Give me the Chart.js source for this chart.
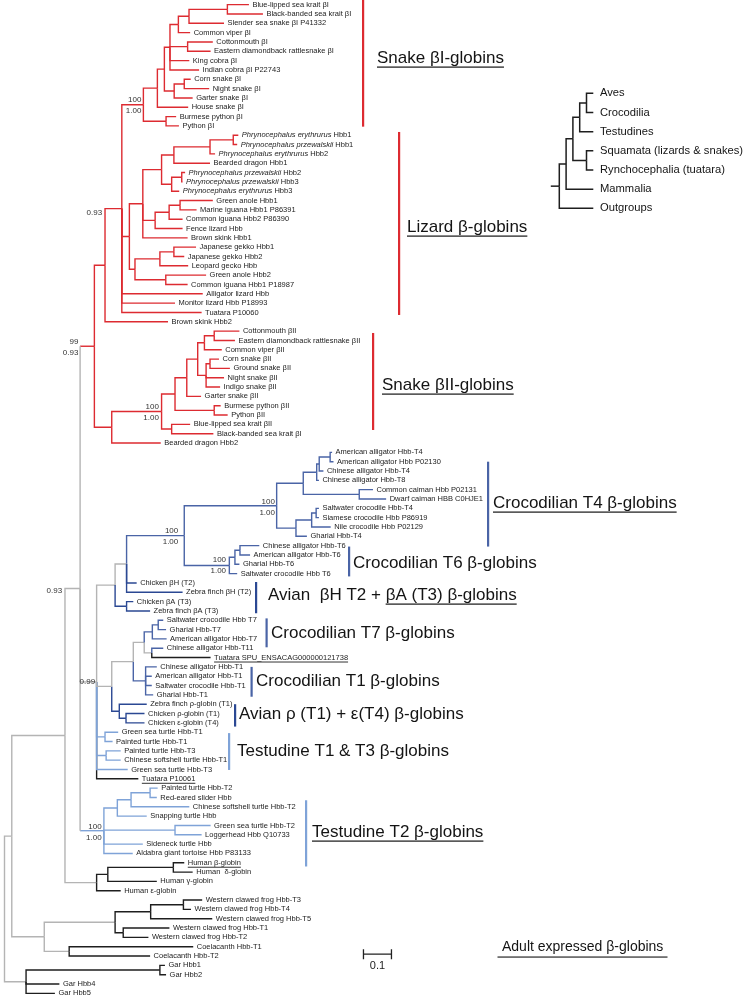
<!DOCTYPE html>
<html>
<head>
<meta charset="utf-8">
<script src="https://cdn.jsdelivr.net/npm/chart.js@4.4.1/dist/chart.umd.min.js"></script>
<style>
  html, body { margin: 0; padding: 0; background: #fff; }
  #page { position: relative; width: 745px; height: 998px; overflow: hidden; }
  #tree { position: absolute; left: 0; top: 0; }
  #inset { position: absolute; left: 540px; top: 80px; }
</style>
</head>
<body>
<div id="page">
  <canvas id="tree" width="745" height="998"></canvas>
  <canvas id="inset" width="205" height="140"></canvas>
</div>
<script>
const FONT = '"Liberation Sans", Arial, sans-serif';

// internal nodes: id, parent, distance from root (subst./site), clade
const treeNodes = [
  ['root', null, 0, 'grey'], ['Q', 'root', 0.026, 'grey'], ['N65', 'Q', 0.216, 'grey'], ['N80', 'N65', 0.270, 'grey'],
  ['S', 'N80', 0.321, 'red'], ['L105', 'S', 0.359, 'red'], ['P', 'L105', 0.419, 'red'],
  ['SB1', 'P', 0.496, 'red'], ['sb1_h', 'SB1', 0.546, 'red'], ['sb1_ac', 'sb1_h', 0.571, 'red'], ['sb1_A', 'sb1_ac', 0.591, 'red'],
  ['sb1_vip', 'sb1_A', 0.621, 'red'], ['sb1_sea', 'sb1_vip', 0.659, 'red'], ['sb1_kr', 'sb1_sea', 0.796, 'red'],
  ['sb1_cot', 'sb1_A', 0.654, 'red'], ['sb1_col', 'sb1_ac', 0.606, 'red'], ['sb1_cn', 'sb1_col', 0.642, 'red'], ['sb1_py', 'SB1', 0.577, 'red'],
  ['LC', 'P', 0.446, 'red'], ['lz_a', 'LC', 0.494, 'red'], ['agam', 'lz_a', 0.561, 'red'], ['agam1', 'agam', 0.605, 'red'],
  ['agam1p', 'agam1', 0.734, 'red'], ['agam1pp', 'agam1p', 0.817, 'red'], ['agam2', 'agam', 0.597, 'red'], ['agam2p', 'agam2', 0.633, 'red'],
  ['igu', 'lz_a', 0.538, 'red'], ['igu1', 'igu', 0.588, 'red'], ['igu2', 'igu1', 0.627, 'red'],
  ['gek', 'LC', 0.466, 'red'], ['gek1', 'gek', 0.555, 'red'], ['gek2', 'gek1', 0.605, 'red'], ['ga2', 'gek', 0.576, 'red'],
  ['SB2a', 'S', 0.383, 'red'], ['SB2', 'SB2a', 0.561, 'red'], ['sb2_b', 'SB2', 0.609, 'red'], ['sb2_c', 'sb2_b', 0.651, 'red'],
  ['sb2_d', 'sb2_c', 0.690, 'red'], ['sb2_vip', 'sb2_d', 0.714, 'red'], ['sb2_cot', 'sb2_vip', 0.749, 'red'],
  ['sb2_col', 'sb2_d', 0.720, 'red'], ['sb2_cg', 'sb2_col', 0.734, 'red'], ['sb2_py', 'sb2_b', 0.749, 'red'], ['sb2_k', 'SB2', 0.597, 'red'],
  ['N96', 'N80', 0.329, 'grey'], ['N115', 'N96', 0.395, 'grey'], ['N126', 'N115', 0.436, 'grey'],
  ['CR', 'N126', 0.642, 'croc'], ['T4', 'CR', 0.972, 'croc'], ['t4a', 'T4', 1.067, 'croc'], ['t4al', 't4a', 1.115, 'croc'],
  ['t4al2', 't4al', 1.124, 'croc'], ['t4al3', 't4al2', 1.163, 'croc'], ['t4cai', 't4a', 1.267, 'croc'],
  ['t4b', 'T4', 1.041, 'croc'], ['t4c', 't4b', 1.097, 'croc'], ['t4d', 't4c', 1.113, 'croc'],
  ['T6', 'CR', 0.803, 'croc'], ['t6a', 'T6', 0.823, 'croc'], ['t6b', 't6a', 0.841, 'croc'],
  ['bA', 'N115', 0.436, 'avian'],
  ['N111', 'N96', 0.383, 'grey'], ['N133', 'N111', 0.460, 'grey'], ['N144', 'N133', 0.499, 'grey'],
  ['T7', 'N144', 0.528, 'croc'], ['t7a', 'T7', 0.549, 'croc'], ['T11', 'N144', 0.526, 'grey'], ['T1', 'N133', 0.504, 'croc'],
  ['rho', 'N111', 0.410, 'avian'], ['rhoC', 'rho', 0.434, 'avian'],
  ['tt1', 'N96', 0.359, 'turtle'], ['tt3', 'N96', 0.363, 'turtle'],
  ['T2', 'N80', 0.355, 'turtle'], ['t2a', 'T2', 0.403, 'turtle'], ['t2b', 't2a', 0.452, 'turtle'], ['t2c', 't2b', 0.520, 'turtle'], ['t2d', 'T2', 0.609, 'turtle'],
  ['hum', 'N65', 0.329, 'grey'], ['humG', 'hum', 0.369, 'black'], ['humBD', 'humG', 0.603, 'black'],
  ['FC', 'Q', 0.142, 'grey'], ['frog', 'FC', 0.395, 'grey'], ['frogA', 'frog', 0.522, 'black'], ['frog34', 'frogA', 0.639, 'black'],
  ['frog12', 'frog', 0.424, 'black'], ['coel', 'FC', 0.231, 'grey'],
  ['gar', 'root', 0.077, 'grey'], ['gar12', 'gar', 0.555, 'black']
];

// leaves, top to bottom: name, parent, distance from root (optional clade override)
const snakeBetaI = [
  ['Blue-lipped sea krait βI', 'sb1_kr', 0.873], ['Black-banded sea krait βI', 'sb1_kr', 0.923],
  ['Slender sea snake βI P41332', 'sb1_sea', 0.784], ['Common viper βI', 'sb1_vip', 0.663],
  ['Cottonmouth βI', 'sb1_cot', 0.744], ['Eastern diamondback rattlesnake βI', 'sb1_cot', 0.736],
  ['King cobra βI', 'sb1_A', 0.660], ['Indian cobra βI P22743', 'sb1_A', 0.695],
  ['Corn snake βI', 'sb1_cn', 0.665], ['Night snake βI', 'sb1_cn', 0.731], ['Garter snake βI', 'sb1_col', 0.672],
  ['House snake βI', 'sb1_h', 0.656], ['Burmese python βI', 'sb1_py', 0.613], ['Python βI', 'sb1_py', 0.623]
];
const lizardGlobins = [
  ['Phrynocephalus erythrurus Hbb1', 'agam1pp', 0.835], ['Phrynocephalus przewalskii Hbb1', 'agam1pp', 0.831],
  ['Phrynocephalus erythrurus Hbb2', 'agam1p', 0.752], ['Bearded dragon Hbb1', 'agam1', 0.734],
  ['Phrynocephalus przewalskii Hbb2', 'agam2p', 0.645], ['Phrynocephalus przewalskii Hbb3', 'agam2p', 0.636],
  ['Phrynocephalus erythrurus Hbb3', 'agam2', 0.624], ['Green anole Hbb1', 'igu2', 0.744],
  ['Marine iguana Hbb1 P86391', 'igu2', 0.686], ['Common iguana Hbb2 P86390', 'igu1', 0.636],
  ['Fence lizard Hbb', 'igu', 0.636], ['Brown skink Hbb1', 'lz_a', 0.654],
  ['Japanese gekko Hbb1', 'gek2', 0.684], ['Japanese gekko Hbb2', 'gek2', 0.642], ['Leopard gecko Hbb', 'gek1', 0.656],
  ['Green anole Hbb2', 'ga2', 0.720], ['Common iguana Hbb1 P18987', 'ga2', 0.654],
  ['Alligator lizard Hbb', 'P', 0.708], ['Monitor lizard Hbb P18993', 'P', 0.609], ['Tuatara P10060', 'P', 0.704],
  ['Brown skink Hbb2', 'L105', 0.584]
];
const snakeBetaII = [
  ['Cottonmouth βII', 'sb2_cot', 0.839], ['Eastern diamondback rattlesnake βII', 'sb2_cot', 0.823],
  ['Common viper βII', 'sb2_vip', 0.776], ['Corn snake βII', 'sb2_cg', 0.766], ['Ground snake βII', 'sb2_cg', 0.805],
  ['Night snake βII', 'sb2_col', 0.784], ['Indigo snake βII', 'sb2_col', 0.770], ['Garter snake βII', 'sb2_c', 0.702],
  ['Burmese python βII', 'sb2_py', 0.772], ['Python βII', 'sb2_py', 0.797],
  ['Blue-lipped sea krait βII', 'sb2_k', 0.663], ['Black-banded sea krait βI', 'sb2_k', 0.746],
  ['Bearded dragon Hbb2', 'SB2a', 0.558]
];
const crocT4 = [
  ['American alligator Hbb-T4', 't4al3', 1.170], ['American alligator Hbb P02130', 't4al3', 1.175],
  ['Chinese alligator Hbb-T4', 't4al2', 1.139], ['Chinese alligator Hbb-T8', 't4al', 1.123],
  ['Common caiman Hbb P02131', 't4cai', 1.316], ['Dwarf caiman HBB C0HJE1', 't4cai', 1.363],
  ['Saltwater crocodile Hbb-T4', 't4d', 1.123], ['Siamese crocodile Hbb P86919', 't4d', 1.123],
  ['Nile crocodile Hbb P02129', 't4c', 1.165], ['Gharial Hbb-T4', 't4b', 1.080]
];
const crocT6 = [
  ['Chinese alligator Hbb-T6', 't6b', 0.910], ['American alligator Hbb-T6', 't6b', 0.877],
  ['Gharial Hbb-T6', 't6a', 0.839], ['Saltwater crocodile Hbb T6', 'T6', 0.831]
];
const avianT2T3 = [
  ['Chicken βH (T2)', 'N126', 0.472], ['Zebra finch βH (T2)', 'N126', 0.636],
  ['Chicken βA (T3)', 'bA', 0.460], ['Zebra finch βA (T3)', 'bA', 0.520]
];
const crocT7 = [
  ['Saltwater crocodile Hbb T7', 't7a', 0.567], ['Gharial Hbb-T7', 't7a', 0.577],
  ['American alligator Hbb-T7', 'T7', 0.579], ['Chinese alligator Hbb-T11', 'T11', 0.567],
  ['Tuatara SPU_ENSACAG000000121738', 'T11', 0.736, 'black']
];
const crocT1 = [
  ['Chinese alligator Hbb-T1', 'T1', 0.544], ['American alligator Hbb-T1', 'T1', 0.526],
  ['Saltwater crocodile Hbb-T1', 'T1', 0.526], ['Gharial Hbb-T1', 'T1', 0.531]
];
const avianRhoEps = [
  ['Zebra finch ρ-globin (T1)', 'rho', 0.508], ['Chicken ρ-globin (T1)', 'rhoC', 0.500], ['Chicken ε-globin (T4)', 'rhoC', 0.500]
];
const turtleT1T3 = [
  ['Green sea turtle Hbb-T1', 'tt1', 0.406], ['Painted turtle Hbb-T1', 'tt1', 0.386],
  ['Painted turtle Hbb-T3', 'tt3', 0.415], ['Chinese softshell turtle Hbb-T1', 'tt3', 0.415],
  ['Green sea turtle Hbb-T3', 'N96', 0.440], ['Tuatara P10061', 'N96', 0.478, 'black']
];
const turtleT2 = [
  ['Painted turtle Hbb-T2', 't2c', 0.547], ['Red-eared slider Hbb', 't2c', 0.544],
  ['Chinese softshell turtle Hbb-T2', 't2b', 0.660], ['Snapping turtle Hbb', 't2a', 0.508],
  ['Green sea turtle Hbb-T2', 't2d', 0.736], ['Loggerhead Hbb Q10733', 't2d', 0.704],
  ['Sideneck turtle Hbb', 'T2', 0.494], ['Aldabra giant tortoise Hbb P83133', 'T2', 0.458]
];
const outgroups = [
  ['Human β-globin', 'humBD', 0.642], ['Human  δ-globin', 'humBD', 0.672], ['Human γ-globin', 'humG', 0.544],
  ['Human ε-globin', 'hum', 0.415],
  ['Western clawed frog Hbb-T3', 'frog34', 0.706], ['Western clawed frog Hbb-T4', 'frog34', 0.666],
  ['Western clawed frog Hbb-T5', 'frogA', 0.742], ['Western clawed frog Hbb-T1', 'frog12', 0.589],
  ['Western clawed frog Hbb-T2', 'frog12', 0.514],
  ['Coelacanth Hbb-T1', 'coel', 0.674], ['Coelacanth Hbb-T2', 'coel', 0.520],
  ['Gar Hbb1', 'gar12', 0.573], ['Gar Hbb2', 'gar12', 0.577], ['Gar Hbb4', 'gar', 0.196], ['Gar Hbb5', 'gar', 0.180]
];
const leafBlocks = [
  ['red', snakeBetaI], ['red', lizardGlobins], ['red', snakeBetaII], ['croc', crocT4], ['croc', crocT6],
  ['avian', avianT2T3], ['croc', crocT7], ['croc', crocT1], ['avian', avianRhoEps],
  ['turtle', turtleT1T3], ['turtle', turtleT2], ['black', outgroups]
];

// bootstrap / posterior support
const supportNodes = ['SB1', 'P', 'S', 'SB2', 'CR', 'T4', 'T6', 'N80', 'N96', 'T2'];
const supportValues = [['100', '1.00'], ['0.93'], ['99', '0.93'], ['100', '1.00'], ['100', '1.00'],
  ['100', '1.00'], ['100', '1.00'], ['0.93'], ['0.99'], ['100', '1.00']];

const italicGenus = 'Phrynocephalus';
const underlinedLeaves = ['Human β-globin', 'Tuatara P10061', 'Tuatara SPU_ENSACAG000000121738'];

// species tree inset
const insetTaxa = ['Aves', 'Crocodilia', 'Testudines', 'Squamata (lizards & snakes)', 'Rynchocephalia (tuatara)', 'Mammalia', 'Outgroups'];
const insetParents = ['ac', 'ac', 'at', 'lp', 'lp', 'am', 'r'];
const insetNodes = [['stem', null, -1.25], ['r', 'stem', 0], ['am', 'r', 1], ['sa', 'am', 2], ['at', 'sa', 3], ['ac', 'at', 4], ['lp', 'sa', 4]];

const colours = { red: '#dd2b31', grey: '#b4b4b4', black: '#1e1e1e', croc: '#4a64a6', avian: '#2b4893', turtle: '#7fa3d8' };
// nodes whose vertical joint keeps the node's own colour
const greyJoints = ['N80'];

function layoutTree(nodeRows, leafRows) {
  const info = {};
  nodeRows.forEach(([id, parent, depth, grp]) => { info[id] = { id, parent, depth, grp, kids: [] }; });
  leafRows.forEach((l, i) => {
    info['leaf' + i] = { id: 'leaf' + i, name: l.name, parent: l.parent, depth: l.depth, grp: l.grp, y: i + 1, leaf: true, kids: [] };
  });
  Object.values(info).forEach(n => { if (n.parent != null) info[n.parent].kids.push(n); });
  const yOf = n => {
    if (n.y == null) {
      const ys = n.kids.map(yOf);
      n.y = (Math.min(...ys) + Math.max(...ys)) / 2;
    }
    return n.y;
  };
  Object.values(info).forEach(yOf);
  return info;
}

function edgeSets(info, width) {
  const sets = [];
  const line = (pts, grp, order) => sets.push({
    data: pts, borderColor: colours[grp], borderWidth: width, showLine: true, pointRadius: 0, tension: 0, order
  });
  Object.values(info).filter(n => n.parent != null).forEach(n => {
    const p = info[n.parent];
    const dist = Math.abs(n.y - p.y);
    if (greyJoints.includes(p.id)) {
      line([{ x: p.depth, y: p.y }, { x: p.depth, y: n.y }], p.grp, dist);
      line([{ x: p.depth, y: n.y }, { x: n.depth, y: n.y }], n.grp, dist);
    } else {
      line([{ x: p.depth, y: p.y }, { x: p.depth, y: n.y }, { x: n.depth, y: n.y }], n.grp, dist);
    }
  });
  return sets;
}

const leafList = [];
leafBlocks.forEach(([grp, rows]) => rows.forEach(r => leafList.push({ name: r[0], parent: r[1], depth: r[2], grp: r[3] || grp })));
const tree = layoutTree(treeNodes, leafList);

// clade annotations: bar span in leaf rows, text placed in pixels
const cladeNotes = [
  { text: 'Snake βI-globins', span: [0.5, 14.08], barX: 363, c: 'red', x: 377, y: 58, under: true },
  { text: 'Lizard β-globins', span: [14.65, 34.27], barX: 399, c: 'red', x: 407, y: 227, under: true },
  { text: 'Snake βII-globins', span: [36.2, 46.6], barX: 373, c: 'red', x: 382, y: 385, under: true },
  { text: 'Crocodilian T4 β-globins', span: [50.0, 59.1], barX: 488, c: 'croc', x: 493, y: 503, under: true },
  { text: 'Crocodilian T6 β-globins', span: [59.1, 62.3], barX: 349, c: 'croc', x: 353, y: 563 },
  { text: 'Avian  βH T2 + βA (T3) β-globins', span: [62.9, 66.25], barX: 256, c: 'avian', x: 268, y: 595, underFrom: 'βA' },
  { text: 'Crocodilian T7 β-globins', span: [66.8, 69.9], barX: 266.5, c: 'croc', x: 271, y: 633 },
  { text: 'Crocodilian T1 β-globins', span: [72.0, 75.2], barX: 251.5, c: 'croc', x: 256, y: 681 },
  { text: 'Avian ρ (T1) + ε(T4) β-globins', span: [76.0, 78.4], barX: 235, c: 'avian', x: 239, y: 714 },
  { text: 'Testudine T1 & T3 β-globins', span: [79.1, 83.05], barX: 229, c: 'turtle', x: 237, y: 751 },
  { text: 'Testudine T2 β-globins', span: [86.3, 93.4], barX: 306, c: 'turtle', x: 312, y: 832, under: true }
];
const supportNudge = { SB1: [2, 0.8], P: [19.7, 4.7], S: [16, 1], SB2: [2.7, 0.5], CR: [6, 0.6], T4: [1.7, 1.3],
  T6: [3.3, -0.6], N80: [18, 2.6], N96: [1.5, 0], T2: [2.3, 1.6] };

const treeLabels = {
  id: 'treeLabels',
  afterDatasetsDraw(chart) {
    const { ctx, scales: { x, y } } = chart;
    ctx.save();
    ctx.textBaseline = 'middle';
    ctx.fillStyle = '#1c1c1c';

    // leaf names
    Object.values(tree).filter(n => n.leaf).forEach(l => {
      const x0 = x.getPixelForValue(l.depth) + 3.5;
      const py = y.getPixelForValue(l.y);
      let px = x0, rest = l.name;
      if (rest.startsWith(italicGenus)) {
        const parts = rest.split(' ');
        const it = parts.slice(0, 2).join(' ') + ' ';
        ctx.font = 'italic 7.5px ' + FONT;
        ctx.fillText(it, px, py);
        px += ctx.measureText(it).width;
        rest = parts.slice(2).join(' ');
      }
      ctx.font = '7.5px ' + FONT;
      ctx.fillText(rest, px, py);
      if (underlinedLeaves.includes(l.name)) {
        const w = px + ctx.measureText(rest).width;
        ctx.fillRect(x0, py + 4, w - x0, 0.9);
      }
    });

    // support values
    ctx.font = '8px ' + FONT;
    ctx.textAlign = 'right';
    ctx.fillStyle = '#333';
    supportNodes.forEach((id, i) => {
      const n = tree[id], [dx, dy] = supportNudge[id];
      const px = x.getPixelForValue(n.depth) - dx;
      const py = y.getPixelForValue(n.y) + dy;
      const vals = supportValues[i];
      if (vals.length === 1) ctx.fillText(vals[0], px, py);
      else { ctx.fillText(vals[0], px, py - 5.5); ctx.fillText(vals[1], px, py + 5.5); }
    });

    // clade bars and names
    ctx.textAlign = 'left';
    cladeNotes.forEach(c => {
      ctx.fillStyle = colours[c.c];
      const y0 = y.getPixelForValue(c.span[0]), y1 = y.getPixelForValue(c.span[1]);
      ctx.fillRect(c.barX - 1, y0, 2.2, y1 - y0);
      ctx.fillStyle = '#141414';
      ctx.font = '17px ' + FONT;
      ctx.fillText(c.text, c.x, c.y);
      const w = ctx.measureText(c.text).width;
      if (c.under) ctx.fillRect(c.x, c.y + 8.5, w, 1.2);
      if (c.underFrom) {
        const pre = ctx.measureText(c.text.slice(0, c.text.indexOf(c.underFrom))).width;
        ctx.fillRect(c.x + pre, c.y + 8.5, w - pre, 1.2);
      }
    });

    // adult note
    ctx.font = '14px ' + FONT;
    ctx.fillText('Adult expressed β-globins', 502, 947);
    ctx.fillRect(497.5, 956.5, 170, 1.1);

    // scale bar 0.1
    const sx0 = x.getPixelForValue(1.282), sx1 = x.getPixelForValue(1.382);
    const sy = y.getPixelForValue(102.8);
    ctx.strokeStyle = '#222';
    ctx.lineWidth = 1.3;
    ctx.beginPath();
    ctx.moveTo(sx0, sy); ctx.lineTo(sx1, sy);
    ctx.moveTo(sx0, sy - 5); ctx.lineTo(sx0, sy + 5);
    ctx.moveTo(sx1, sy - 5); ctx.lineTo(sx1, sy + 5);
    ctx.stroke();
    ctx.font = '11px ' + FONT;
    ctx.textAlign = 'center';
    ctx.fillStyle = '#222';
    ctx.fillText('0.1', (sx0 + sx1) / 2, sy + 12);
    ctx.restore();
  }
};

new Chart(document.getElementById('tree'), {
  type: 'scatter',
  data: { datasets: edgeSets(tree, 1.4) },
  options: {
    responsive: false,
    animation: false,
    events: [],
    layout: { padding: 0 },
    plugins: { legend: { display: false }, tooltip: { enabled: false } },
    scales: {
      x: { type: 'linear', display: false, min: -4.5 / 280, max: (745 - 4.5) / 280 },
      y: { type: 'linear', display: false, reverse: true, min: 0.5, max: 107.5 }
    }
  },
  plugins: [treeLabels]
});

// inset species tree
const insetTree = layoutTree(insetNodes.map(r => [...r, 'black']),
  insetTaxa.map((t, i) => ({ name: t, parent: insetParents[i], depth: 5, grp: 'black' })));

new Chart(document.getElementById('inset'), {
  type: 'scatter',
  data: { datasets: edgeSets(insetTree, 1.5) },
  options: {
    responsive: false,
    animation: false,
    events: [],
    layout: { padding: 0 },
    plugins: { legend: { display: false }, tooltip: { enabled: false } },
    scales: {
      x: { type: 'linear', display: false, min: -19.3 / 6.8, max: -19.3 / 6.8 + 205 / 6.8 },
      y: { type: 'linear', display: false, reverse: true, min: 0.306, max: 7.609 }
    }
  },
  plugins: [{
    id: 'insetLabels',
    afterDatasetsDraw(chart) {
      const { ctx, scales: { x, y } } = chart;
      ctx.save();
      ctx.font = '11.2px ' + FONT;
      ctx.fillStyle = '#141414';
      ctx.textBaseline = 'middle';
      Object.values(insetTree).filter(n => n.leaf).forEach(l => {
        ctx.fillText(l.name, x.getPixelForValue(l.depth) + 6.7, y.getPixelForValue(l.y));
      });
      ctx.restore();
    }
  }]
});
</script>
</body>
</html>
